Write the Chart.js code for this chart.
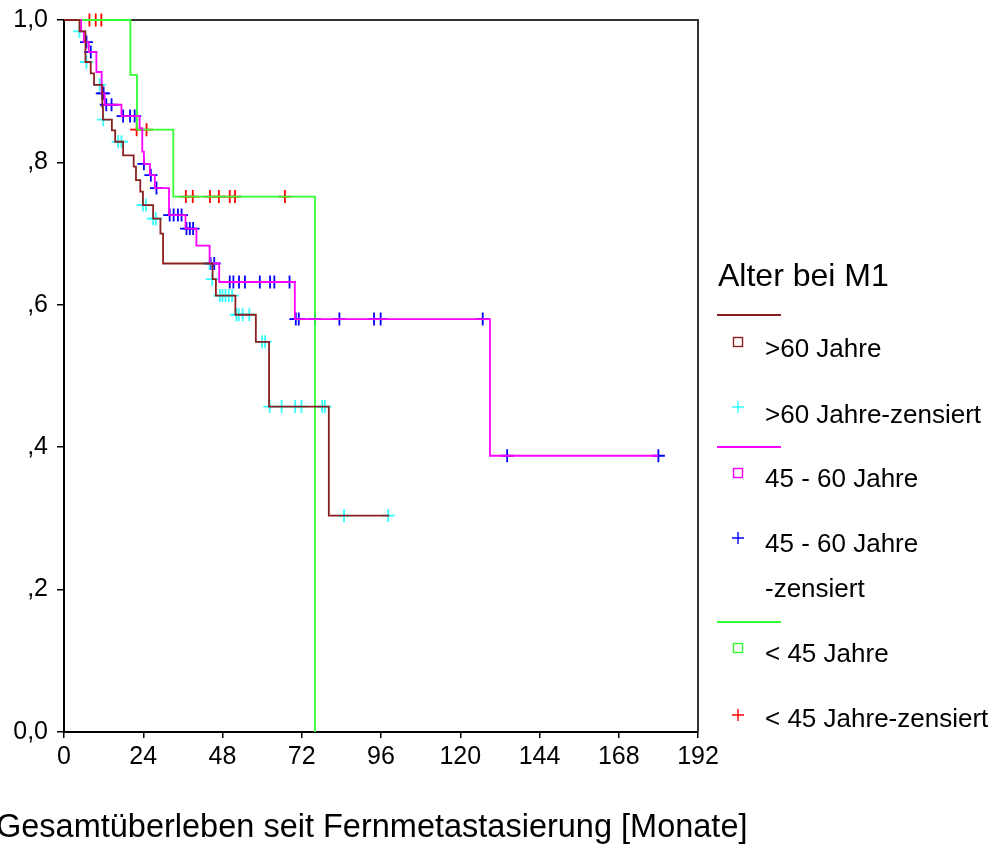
<!DOCTYPE html>
<html>
<head>
<meta charset="utf-8">
<script src="https://cdn.jsdelivr.net/npm/chart.js@4"></script>
<style>
  html, body { margin: 0; padding: 0; background: #fff; }
  #wrap { width: 998px; height: 856px; }
</style>
</head>
<body>
<div id="wrap"><canvas id="chart" width="998" height="856"></canvas></div>
<script>
'use strict';

// axis ticks
var xTickValues = [0, 24, 48, 72, 96, 120, 144, 168, 192];
var yTickValues = [0, 0.2, 0.4, 0.6, 0.8, 1.0];
var yTickLabels = ['0,0', ',2', ',4', ',6', ',8', '1,0'];

var legendTitle = 'Alter bei M1';
var xTitle = 'Gesamtüberleben seit Fernmetastasierung [Monate]';

// >60 Jahre: survival steps
var oldTimes = [0, 4.7, 6.5, 8.1, 9.1, 11.6, 11.8, 14.5, 15.5, 17.9, 21.1, 21.8, 23.1, 23.9, 27.0, 29.2, 30.0, 45.0, 46.0, 51.9, 58.1, 62.1, 80.2, 98.5];
var oldSurv  = [1, 0.984, 0.941, 0.925, 0.909, 0.878, 0.860, 0.845, 0.829, 0.810, 0.794, 0.775, 0.759, 0.740, 0.721, 0.700, 0.658, 0.636, 0.613, 0.586, 0.548, 0.457, 0.304, 0.304];
// >60 Jahre: censored
var oldCensTimes = [4.7, 6.8, 10.8, 11.9, 16.4, 17.4, 23.9, 24.8, 27.0, 27.8, 44.1, 44.9, 47.2, 48.0, 48.9, 49.9, 50.9, 52.2, 52.9, 54.1, 56.1, 60.0, 60.9, 62.3, 65.9, 70.0, 71.9, 78.2, 79.0, 84.8, 98.2];
var oldCensSurv  = [0.984, 0.941, 0.909, 0.860, 0.829, 0.829, 0.740, 0.740, 0.721, 0.721, 0.658, 0.636, 0.613, 0.613, 0.613, 0.613, 0.613, 0.586, 0.586, 0.586, 0.586, 0.548, 0.548, 0.457, 0.457, 0.457, 0.457, 0.457, 0.457, 0.304, 0.304];

// 45 - 60 Jahre: survival steps
var midTimes = [0, 5.2, 6.0, 7.5, 9.8, 11.4, 12.3, 17.4, 22.9, 23.7, 24.2, 26.0, 27.5, 31.8, 36.8, 40.1, 44.1, 47.0, 69.9, 129.0, 180.0];
var midSurv  = [1, 0.984, 0.969, 0.955, 0.927, 0.897, 0.881, 0.865, 0.848, 0.815, 0.798, 0.782, 0.764, 0.726, 0.707, 0.683, 0.658, 0.632, 0.580, 0.388, 0.388];
// 45 - 60 Jahre: censored
var midCensTimes = [6.8, 8.1, 11.6, 12.0, 12.8, 14.4, 17.9, 20.0, 21.4, 24.2, 26.3, 28.0, 32.0, 33.2, 34.5, 35.6, 37.1, 38.1, 39.1, 44.4, 45.5, 50.2, 51.3, 53.0, 54.8, 59.3, 62.4, 63.7, 68.3, 70.2, 71.1, 76.0, 83.4, 93.9, 95.9, 126.8, 134.2, 180.0];
var midCensSurv  = [0.969, 0.955, 0.897, 0.897, 0.881, 0.881, 0.865, 0.865, 0.865, 0.798, 0.782, 0.764, 0.726, 0.726, 0.726, 0.726, 0.707, 0.707, 0.707, 0.658, 0.658, 0.632, 0.632, 0.632, 0.632, 0.632, 0.632, 0.632, 0.632, 0.580, 0.580, 0.580, 0.580, 0.580, 0.580, 0.580, 0.388, 0.388];

// < 45 Jahre: survival steps
var youngTimes = [0, 20.1, 22.1, 33.1, 76.0];
var youngSurv  = [1, 0.923, 0.846, 0.752, 0];
// < 45 Jahre: censored
var youngCensTimes = [7.7, 9.6, 11.3, 22.0, 25.0, 36.9, 39.0, 44.2, 46.9, 50.2, 51.8, 66.9];
var youngCensSurv  = [1, 1, 1, 0.846, 0.846, 0.752, 0.752, 0.752, 0.752, 0.752, 0.752, 0.752];

var groupLabels = ['>60 Jahre', '45 - 60 Jahre', '< 45 Jahre'];
var lineColors  = ['#8b2020', '#ff00ff', '#33ff33'];
var censColors  = ['#33ffff', '#0000ff', '#ff0000'];

var FONT = "'Liberation Sans', Arial, sans-serif";
var TICK_FONT = "'Liberation Sans Narrow', 'Arial Narrow', 'Liberation Sans', sans-serif";

function toPoints(xs, ys) {
    return xs.map(function (x, i) { return { x: x, y: ys[i] }; });
}

function curve(label, xs, ys, color) {
    return {
        label: label,
        data: toPoints(xs, ys),
        showLine: true,
        stepped: 'before',
        borderColor: color,
        borderWidth: 1.8,
        pointRadius: 0,
        fill: false,
        clip: 8
    };
}

function censored(label, xs, ys, color) {
    return {
        label: label,
        data: toPoints(xs, ys),
        showLine: false,
        pointStyle: 'cross',
        pointRadius: 6.5,
        pointBorderWidth: 1.8,
        borderColor: color,
        backgroundColor: color,
        clip: 10
    };
}

// frame on top and right of the plot
var framePlugin = {
    id: 'frame',
    beforeDatasetsDraw: function (chart) {
        var a = chart.chartArea, ctx = chart.ctx;
        ctx.save();
        ctx.strokeStyle = '#333';
        ctx.lineWidth = 2;
        ctx.beginPath();
        ctx.moveTo(a.left, a.top);
        ctx.lineTo(a.right, a.top);
        ctx.lineTo(a.right, a.bottom);
        ctx.stroke();
        ctx.restore();
    }
};

// legend on the right and x axis title
var sideLegend = {
    id: 'sideLegend',
    afterDraw: function (chart) {
        var ctx = chart.ctx;
        ctx.save();
        ctx.fillStyle = '#000';
        ctx.textBaseline = 'alphabetic';
        ctx.textAlign = 'left';

        ctx.font = '32px ' + FONT;
        ctx.fillText(legendTitle, 718, 286);

        var lineY   = [315, 447, 622];
        var boxY    = [342, 473, 648];
        var crossY  = [407, 538, 715];
        var labelY  = [357, 487, 662];
        var censY   = [423, 552, 727];

        ctx.font = '26px ' + FONT;
        for (var i = 0; i < 3; i++) {
            ctx.strokeStyle = lineColors[i];
            ctx.lineWidth = 1.8;
            ctx.beginPath();
            ctx.moveTo(717, lineY[i]);
            ctx.lineTo(781, lineY[i]);
            ctx.stroke();

            ctx.lineWidth = 1.4;
            ctx.strokeRect(733.5, boxY[i] - 4.5, 9, 9);

            ctx.strokeStyle = censColors[i];
            ctx.beginPath();
            ctx.moveTo(732, crossY[i]);
            ctx.lineTo(744, crossY[i]);
            ctx.moveTo(738, crossY[i] - 6);
            ctx.lineTo(738, crossY[i] + 6);
            ctx.stroke();

            ctx.fillText(groupLabels[i], 765, labelY[i]);
        }
        ctx.fillText('>60 Jahre-zensiert', 765, censY[0]);
        ctx.fillText('45 - 60 Jahre', 765, censY[1]);
        ctx.fillText('-zensiert', 765, 597);
        ctx.fillText('< 45 Jahre-zensiert', 765, censY[2]);

        ctx.font = '32.5px ' + FONT;
        ctx.textBaseline = 'middle';
        ctx.fillText(xTitle, -4, 828);
        ctx.restore();
    }
};

var ctx = document.getElementById('chart');

var myChart = new Chart(ctx, {
    type: 'scatter',
    data: {
        datasets: [
            curve(groupLabels[0], oldTimes, oldSurv, lineColors[0]),
            curve(groupLabels[1], midTimes, midSurv, lineColors[1]),
            curve(groupLabels[2], youngTimes, youngSurv, lineColors[2]),
            censored(groupLabels[0] + '-zensiert', oldCensTimes, oldCensSurv, censColors[0]),
            censored(groupLabels[1] + '-zensiert', midCensTimes, midCensSurv, censColors[1]),
            censored(groupLabels[2] + '-zensiert', youngCensTimes, youngCensSurv, censColors[2])
        ]
    },
    options: {
        responsive: false,
        devicePixelRatio: 1,
        animation: false,
        layout: { padding: { top: 20, right: 300, left: 0, bottom: 0 } },
        plugins: {
            legend: { display: false },
            tooltip: { enabled: false }
        },
        scales: {
            x: {
                type: 'linear',
                min: 0,
                max: 192,
                afterFit: function (scale) {
                    scale.height = 124;
                    scale.paddingLeft = 0;
                    scale.paddingRight = 0;
                },
                afterBuildTicks: function (scale) {
                    scale.ticks = xTickValues.map(function (v) { return { value: v }; });
                },
                ticks: {
                    color: '#000',
                    font: { family: TICK_FONT, size: 25 },
                    padding: 4,
                    maxRotation: 0,
                    callback: function (v) { return String(v); }
                },
                grid: { drawOnChartArea: false, drawTicks: true, tickLength: 6, color: '#000', lineWidth: 1.5 },
                border: { display: true, color: '#000', width: 2 }
            },
            y: {
                type: 'linear',
                min: 0,
                max: 1,
                afterFit: function (scale) {
                    scale.width = 64;
                    scale.paddingTop = 0;
                    scale.paddingBottom = 0;
                },
                afterBuildTicks: function (scale) {
                    scale.ticks = yTickValues.map(function (v) { return { value: v }; });
                },
                ticks: {
                    color: '#000',
                    font: { family: TICK_FONT, size: 25 },
                    padding: 9,
                    callback: function (v, i) { return yTickLabels[i]; }
                },
                grid: { drawOnChartArea: false, drawTicks: true, tickLength: 7, color: '#000', lineWidth: 1.5 },
                border: { display: true, color: '#000', width: 2 }
            }
        }
    },
    plugins: [framePlugin, sideLegend]
});
</script>
</body>
</html>
